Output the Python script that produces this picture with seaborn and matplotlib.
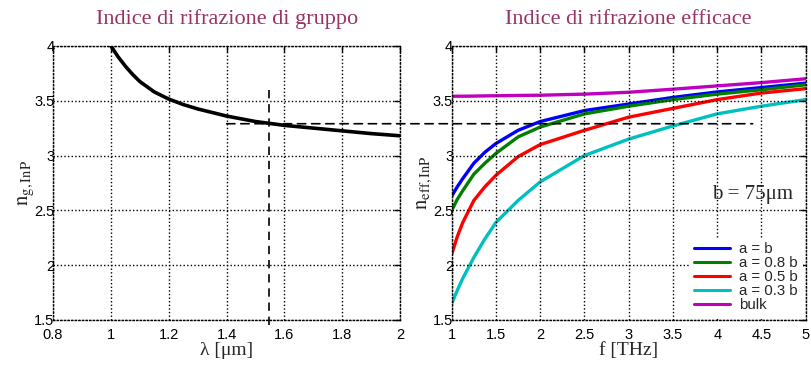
import numpy as np
import pandas as pd
import matplotlib
matplotlib.use("Agg")
import matplotlib.pyplot as plt
from matplotlib.patches import ConnectionPatch
import seaborn as sns

# ---------------- data ----------------
lam = [1.0, 1.025, 1.05, 1.075, 1.1, 1.15, 1.2, 1.25, 1.3, 1.4, 1.5, 1.6, 1.7,
       1.8, 1.9, 2.0]
ng = [4.0, 3.90, 3.815, 3.74, 3.675, 3.58, 3.515, 3.465, 3.425, 3.36, 3.31,
      3.275, 3.25, 3.225, 3.20, 3.18]

freq = [1.0, 1.0625, 1.125, 1.25, 1.375, 1.5, 1.75, 2.0, 2.5, 3.0, 3.5, 4.0,
        4.5, 5.0]
n_ab = [2.63, 2.715, 2.79, 2.93, 3.03, 3.11, 3.23, 3.31, 3.41, 3.47, 3.53,
        3.58, 3.62, 3.66]
n_a08 = [2.50, 2.60, 2.68, 2.83, 2.93, 3.02, 3.17, 3.26, 3.38, 3.45, 3.51,
         3.56, 3.60, 3.645]
n_a05 = [2.10, 2.26, 2.39, 2.59, 2.715, 2.82, 2.99, 3.10, 3.23, 3.35, 3.43,
         3.51, 3.57, 3.61]
n_a03 = [1.65, 1.77, 1.88, 2.07, 2.24, 2.39, 2.59, 2.76, 3.00, 3.15, 3.27,
         3.38, 3.45, 3.51]
n_bulk = [3.54, 3.541, 3.541, 3.542, 3.544, 3.545, 3.548, 3.55, 3.56, 3.577,
          3.605, 3.635, 3.665, 3.70]

series_labels = ["a = b", "a = 0.8 b", "a = 0.5 b", "a = 0.3 b", "bulk"]
series_colors = ["#0000ff", "#008000", "#ff0000", "#00bfbf", "#bf00bf"]

lam_ticks = [0.8, 1, 1.2, 1.4, 1.6, 1.8, 2]
lam_ticklabels = ["0.8", "1", "1.2", "1.4", "1.6", "1.8", "2"]
f_ticks = [1, 1.5, 2, 2.5, 3, 3.5, 4, 4.5, 5]
f_ticklabels = ["1", "1.5", "2", "2.5", "3", "3.5", "4", "4.5", "5"]
n_ticks = [1.5, 2, 2.5, 3, 3.5, 4]
n_ticklabels = ["1.5", "2", "2.5", "3", "3.5", "4"]

lam_op = 1.545     # operating wavelength
n_op = 3.29        # group index at operating wavelength
n_op_top = 3.6
f_dash_end = 4.4

title_left = "Indice di rifrazione di gruppo"
title_right = "Indice di rifrazione efficace"

# ---------------- style ----------------
sns.set_style("white")
plt.rcParams["font.family"] = ["Liberation Sans", "DejaVu Sans"]
plt.rcParams["mathtext.fontset"] = "stix"

serif = ["Liberation Serif", "DejaVu Serif"]
title_color = "#993366"

fig = plt.figure(figsize=(8.11, 3.65), dpi=100)
ax1 = fig.add_axes([0.0654, 0.1233, 0.428, 0.751])
ax2 = fig.add_axes([0.557, 0.1233, 0.4365, 0.751])

df_left = pd.DataFrame({"lam": lam, "ng": ng})
sns.lineplot(data=df_left, x="lam", y="ng", ax=ax1, color="black", lw=2.6,
             sort=False, legend=False)

rows = []
for lab, vals in zip(series_labels, [n_ab, n_a08, n_a05, n_a03, n_bulk]):
    for f, v in zip(freq, vals):
        rows.append({"f": f, "n": v, "serie": lab})
df_right = pd.DataFrame(rows)
sns.lineplot(data=df_right, x="f", y="n", hue="serie", hue_order=series_labels,
             palette=dict(zip(series_labels, series_colors)), ax=ax2, lw=2.4,
             sort=False)
for line in ax2.get_lines():
    line.set_solid_joinstyle("round")
for line in ax1.get_lines():
    line.set_solid_joinstyle("round")

# dashed guide lines
ax1.plot([lam_op, lam_op], [1.45, n_op_top], color="black", ls=(0, (5, 3.5)),
         lw=1.2, clip_on=False, zorder=5)
con = ConnectionPatch(xyA=(1.4, n_op), coordsA=ax1.transData,
                      xyB=(f_dash_end, n_op), coordsB=ax2.transData,
                      color="black", ls=(0, (5, 3.5)), lw=1.2, zorder=5)
fig.add_artist(con)

for ax, xt, xtl, xlim in [(ax1, lam_ticks, lam_ticklabels, (0.8, 2)),
                          (ax2, f_ticks, f_ticklabels, (1, 5))]:
    ax.set_xlim(*xlim)
    ax.set_ylim(1.5, 4)
    ax.set_xticks(xt)
    ax.set_xticklabels(xtl)
    ax.set_yticks(n_ticks)
    ax.set_yticklabels(n_ticklabels)
    ax.grid(True, color="black", ls=(0, (1, 1.6)), lw=1.0)
    ax.set_axisbelow(False)
    for s in ax.spines.values():
        s.set_visible(True)
        s.set_color("black")
        s.set_linestyle((0, (1, 1.6)))
        s.set_linewidth(1.0)
    ax.tick_params(axis="both", direction="in", length=4, width=1,
                   top=True, right=True, labelsize=10.5, colors="black")
    ax.tick_params(axis="y", pad=-1)
    ax.tick_params(axis="x", pad=6)

ax1.set_title(title_left, fontsize=16, color=title_color, family=serif, pad=16)
ax2.set_title(title_right, fontsize=16, color=title_color, family=serif, pad=16)
ax1.set_xlabel("λ [μm]", fontsize=14, family=serif, labelpad=0)
ax2.set_xlabel("f [THz]", fontsize=14, family=serif, labelpad=0)
ax1.set_ylabel(r"$\mathrm{n_{g,InP}}$", fontsize=15, labelpad=-1)
ax2.set_ylabel(r"$\mathrm{n_{eff,InP}}$", fontsize=15, labelpad=-1)

ax2.text(0.85, 0.456, "b = 75μm", transform=ax2.transAxes, ha="center",
         va="center", fontsize=15, family=serif)

leg = ax2.legend(loc="lower right", bbox_to_anchor=(1.0, 0.0), fontsize=10.8,
                 frameon=True, fancybox=False, framealpha=1.0,
                 edgecolor="none", facecolor="white", title=None,
                 handlelength=2.4, labelspacing=0.0, borderpad=0.3,
                 handletextpad=0.6, borderaxespad=0.2)
for line in leg.get_lines():
    line.set_linewidth(2.2)

fig.savefig("out.png", dpi=100, facecolor="white")
